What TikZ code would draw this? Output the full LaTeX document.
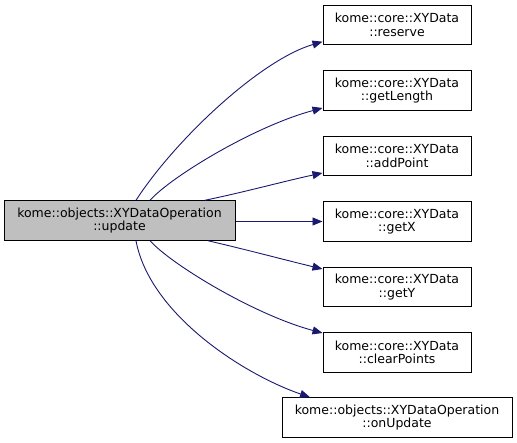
\documentclass[tikz,border=0pt]{standalone}
\usepackage{fontspec}
\setmainfont{DejaVu Sans}
\usetikzlibrary{arrows.meta}
\definecolor{edgec}{HTML}{191970}
\definecolor{grayfill}{HTML}{BFBFBF}
\begin{document}
\begin{tikzpicture}[x=1pt,y=-1pt,
  box/.style={draw=black, line width=1pt, rectangle, align=center, inner sep=0pt,
    minimum height=39.5pt, font=\fontsize{12.5}{13.5}\selectfont},
  rbox/.style={box, fill=white, minimum width=148pt},
  call/.style={draw=edgec, line width=0.9pt, -{Triangle[length=10pt,width=8pt]}}]
\useasboundingbox (0,0) rectangle (517,443);
\node[box, fill=grayfill, minimum width=231pt] (L) at (119.5,220.5) {kome::objects::XYDataOperation\\::update};
\node[rbox] (R1) at (397,25) {kome::core::XYData\\::reserve};
\node[rbox] (R2) at (397,90.5) {kome::core::XYData\\::getLength};
\node[rbox] (R3) at (397,156) {kome::core::XYData\\::addPoint};
\node[rbox] (R4) at (397,221.5) {kome::core::XYData\\::getX};
\node[rbox] (R5) at (397,287) {kome::core::XYData\\::getY};
\node[rbox] (R6) at (397,352.5) {kome::core::XYData\\::clearPoints};
\node[box, fill=white, minimum width=230pt] (R7) at (397,417.5) {kome::objects::XYDataOperation\\::onUpdate};
\draw[call] ([xshift=16.5pt]L.north) .. controls (175,140) and (260,60) .. ([yshift=-16.7pt]R1.west);
\draw[call] ([xshift=30.5pt]L.north) .. controls (172,176) and (255,126) .. ([yshift=-17.5pt]R2.west);
\draw[call] ([xshift=85.5pt]L.north) .. controls (245,192) and (285,181) .. ([yshift=-17pt]R3.west);
\draw[call] (L.east |- R4.west) -- (R4.west);
\draw[call] ([xshift=88.5pt]L.south) .. controls (248,250) and (285,260) .. ([yshift=18pt]R5.west);
\draw[call] ([xshift=30.5pt]L.south) .. controls (172,265) and (255,315) .. ([yshift=19.5pt]R6.west);
\draw[call] ([xshift=16.5pt]L.south) .. controls (150,315) and (245,375) .. ([xshift=-87pt]R7.north);
\end{tikzpicture}
\end{document}
